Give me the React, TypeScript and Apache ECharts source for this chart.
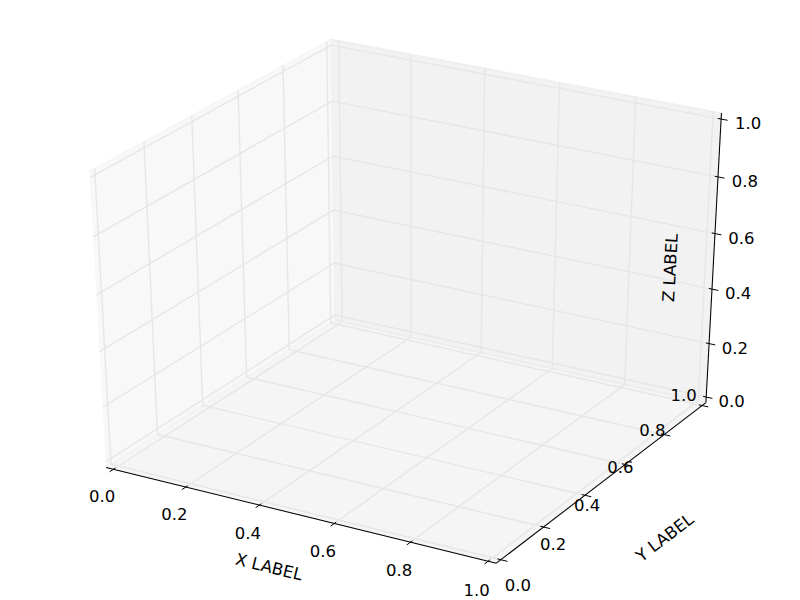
import React, { useEffect, useRef } from "react";
import * as echarts from "echarts";

// ---------------- data (empty 3D axes) ----------------
const xLimits = [0, 1];
const yLimits = [0, 1];
const zLimits = [0, 1];
const xTicks = [0.0, 0.2, 0.4, 0.6, 0.8, 1.0];
const yTicks = [0.0, 0.2, 0.4, 0.6, 0.8, 1.0];
const zTicks = [0.0, 0.2, 0.4, 0.6, 0.8, 1.0];
const xTickLabels = ["0.0", "0.2", "0.4", "0.6", "0.8", "1.0"];
const yTickLabels = ["0.0", "0.2", "0.4", "0.6", "0.8", "1.0"];
const zTickLabels = ["0.0", "0.2", "0.4", "0.6", "0.8", "1.0"];
const axisTitles = ["X LABEL", "Y LABEL", "Z LABEL"];

// ---------------- view (matplotlib mplot3d defaults) ----------------
const ELEV = 30;
const AZIM = -60;
const DIST = 10;

const LIMITS = [xLimits, yLimits, zLimits];
const RANGE = LIMITS.map((l) => l[1] - l[0]);
const DELTA = RANGE.map((r) => r / 12);
const LO = LIMITS.map((l, i) => l[0] - DELTA[i] / 4);
const HI = LIMITS.map((l, i) => l[1] + DELTA[i] / 4);
const CENTER = LIMITS.map((l) => (l[0] + l[1]) / 2);

const sub = (a: number[], b: number[]) => a.map((v, i) => v - b[i]);
const dot = (a: number[], b: number[]) => a[0] * b[0] + a[1] * b[1] + a[2] * b[2];
const cross = (a: number[], b: number[]) => [
  a[1] * b[2] - a[2] * b[1],
  a[2] * b[0] - a[0] * b[2],
  a[0] * b[1] - a[1] * b[0],
];
const unit = (a: number[]) => {
  const m = Math.hypot(a[0], a[1], a[2]);
  return a.map((v) => v / m);
};

const rel = (ELEV * Math.PI) / 180;
const raz = (AZIM * Math.PI) / 180;
const EYE = [
  0.5 + Math.cos(raz) * Math.cos(rel) * DIST,
  0.5 + Math.sin(raz) * Math.cos(rel) * DIST,
  0.5 + Math.sin(rel) * DIST,
];
const NV = unit(sub(EYE, [0.5, 0.5, 0.5]));
const UV = unit(cross([0, 0, 1], NV));
const VV = cross(NV, UV);

const toWorld = (P: number[]) => P.map((v, i) => (v - LIMITS[i][0]) / RANGE[i]);
const viewZ = (P: number[]) => dot(NV, sub(toWorld(P), EYE));
const project = (P: number[]) => {
  const p = sub(toWorld(P), EYE);
  const w = -dot(NV, p);
  return [dot(UV, p) / w, dot(VV, p) / w];
};

// which of the two parallel planes is further from the viewer
const HIGHS = [0, 1, 2].map((i) => {
  const a = CENTER.slice();
  a[i] = LO[i];
  const b = CENTER.slice();
  b[i] = HI[i];
  return viewZ(b) < viewZ(a);
});
const MINMAX = HIGHS.map((h, i) => (h ? HI[i] : LO[i]));
const flip = (P: number[], i: number) => {
  const q = P.slice();
  q[i] = q[i] === LO[i] ? HI[i] : LO[i];
  return q;
};
const moveFromCenter = (P: number[], factor: number, skip: number) =>
  P.map((v, i) => (i === skip ? v : v < CENTER[i] ? v - factor * DELTA[i] : v + factor * DELTA[i]));

// y tick labels sit along this line (normalised x / z as a function of y)
const Y_LABEL_X = [1.0656, 0.9704];
const Y_LABEL_Z = [-0.0968, 0.003];

const AXES = [
  { ticks: xTicks, labels: xTickLabels, juggled: [1, 0, 2], tickdir: 1, labelNudge: [1.5, 3], titleNudge: [2, -5] },
  { ticks: yTicks, labels: yTickLabels, juggled: [0, 1, 2], tickdir: 0, labelNudge: [0, 0], titleNudge: [10, 10] },
  { ticks: zTicks, labels: zTickLabels, juggled: [0, 2, 1], tickdir: 0, labelNudge: [-7, 8], titleNudge: [-119, 14] },
].map((a, i) => {
  const e1 = flip(MINMAX, a.juggled[0]);
  const e2 = flip(e1, a.juggled[1]);
  return { ...a, index: i, edge1: e1, edge2: e2, sign: HIGHS[a.tickdir] ? 1 : -1 };
});

const PANE_GRAY = [0.95, 0.9, 0.925];
const FONT = { fontFamily: "DejaVu Sans", fontSize: 16.5 };

function buildOption(): any {
  const paneData = [0, 1, 2].map((i) => [i, 0]);
  const gridData: number[][] = [];
  const tickData: number[][] = [];
  AXES.forEach((a, i) =>
    a.ticks.forEach((_, k) => {
      gridData.push([i, k]);
      tickData.push([i, k]);
    })
  );

  const renderPane = (_p: any, api: any) => {
    const i = api.value(0);
    const [j, k] = [0, 1, 2].filter((a) => a !== i);
    const corners = [
      [LO[j], LO[k]],
      [HI[j], LO[k]],
      [HI[j], HI[k]],
      [LO[j], HI[k]],
    ];
    const pts = corners.map(([a, b]) => {
      const P = [0, 0, 0];
      P[i] = MINMAX[i];
      P[j] = a;
      P[k] = b;
      return api.coord(project(P));
    });
    const g = Math.round(PANE_GRAY[i] * 255);
    const col = `rgba(${g},${g},${g},0.5)`;
    return {
      type: "group",
      silent: true,
      children: [
        { type: "polygon", shape: { points: pts }, style: { fill: col, stroke: null } },
        { type: "polyline", shape: { points: pts }, style: { fill: null, stroke: col, lineWidth: 1.39 } },
      ],
    };
  };

  const renderGrid = (_p: any, api: any) => {
    const i = api.value(0);
    const val = AXES[i].ticks[api.value(1)];
    const c = MINMAX.slice();
    c[i] = val;
    const p1 = flip(c, (i + 1) % 3);
    const p2 = flip(c, (i + 2) % 3);
    return {
      type: "polyline",
      silent: true,
      shape: { points: [p1, c, p2].map((P) => api.coord(project(P))) },
      style: { fill: null, stroke: "#e6e6e6", lineWidth: 1.39 },
    };
  };

  const renderAxisLine = (_p: any, api: any) => {
    const a = AXES[api.value(0)];
    const s = api.coord(project(a.edge1));
    const e = api.coord(project(a.edge2));
    return {
      type: "line",
      silent: true,
      shape: { x1: s[0], y1: s[1], x2: e[0], y2: e[1] },
      style: { stroke: "#000", lineWidth: 1.04 },
    };
  };

  const renderTick = (_p: any, api: any) => {
    const i = api.value(0);
    const k = api.value(1);
    const a = AXES[i];
    const val = a.ticks[k];
    const pos = a.edge1.slice();
    pos[i] = val;
    const out = pos.slice();
    out[a.tickdir] = a.edge1[a.tickdir] + 0.1 * a.sign * DELTA[a.tickdir];
    const inn = pos.slice();
    inn[a.tickdir] = a.edge1[a.tickdir] - 0.2 * a.sign * DELTA[a.tickdir];
    const t1 = api.coord(project(out));
    const t2 = api.coord(project(inn));
    let lp: number[];
    if (i === 1) {
      const t = (val - yLimits[0]) / RANGE[1];
      lp = [
        xLimits[0] + RANGE[0] * (Y_LABEL_X[0] + (Y_LABEL_X[1] - Y_LABEL_X[0]) * t),
        val,
        zLimits[0] + RANGE[2] * (Y_LABEL_Z[0] + (Y_LABEL_Z[1] - Y_LABEL_Z[0]) * t),
      ];
    } else {
      lp = moveFromCenter(pos, 0.7, i);
    }
    const l = api.coord(project(lp));
    return {
      type: "group",
      silent: true,
      children: [
        { type: "line", shape: { x1: t1[0], y1: t1[1], x2: t2[0], y2: t2[1] }, style: { stroke: "#000", lineWidth: 1 } },
        {
          type: "text",
          x: l[0] + a.labelNudge[0],
          y: l[1] + a.labelNudge[1],
          style: { text: a.labels[k], fill: "#000", align: "center", verticalAlign: "middle", ...FONT },
        },
      ],
    };
  };

  const renderTitle = (_p: any, api: any) => {
    const i = api.value(0);
    const a = AXES[i];
    const mid = a.edge1.map((v, d) => (v + a.edge2[d]) / 2);
    const lp = api.coord(project(moveFromCenter(mid, 1.6, i)));
    const s = api.coord(project(a.edge1));
    const e = api.coord(project(a.edge2));
    let ang = (Math.atan2(-(e[1] - s[1]), e[0] - s[0]) * 180) / Math.PI;
    ang = (((ang + 180) % 180) + 180) % 180;
    if (ang > 90) ang -= 180;
    return {
      type: "text",
      silent: true,
      x: lp[0] + a.titleNudge[0],
      y: lp[1] + a.titleNudge[1],
      rotation: (ang * Math.PI) / 180,
      style: { text: axisTitles[i], fill: "#000", align: "center", verticalAlign: "middle", ...FONT },
    };
  };

  const base = { type: "custom", coordinateSystem: "cartesian2d", silent: true };
  return {
    animation: false,
    backgroundColor: "#ffffff",
    tooltip: { show: false },
    grid: { left: 0, right: 0, top: 0, bottom: 0, show: false },
    xAxis: { type: "value", min: -0.95 / DIST, max: 0.9 / DIST, show: false },
    yAxis: { type: "value", min: -0.95 / DIST, max: 0.9 / DIST, show: false },
    series: [
      { ...base, name: "panes", z: 1, data: paneData, renderItem: renderPane },
      { ...base, name: "grid", z: 2, data: gridData, renderItem: renderGrid },
      { ...base, name: "axis", z: 3, data: paneData, renderItem: renderAxisLine },
      { ...base, name: "ticks", z: 4, data: tickData, renderItem: renderTick },
      { ...base, name: "titles", z: 5, data: paneData, renderItem: renderTitle },
    ],
  };
}

export default function App() {
  const ref = useRef<HTMLDivElement>(null);
  useEffect(() => {
    if (!ref.current) return;
    const chart = echarts.init(ref.current, null, { renderer: "svg" });
    chart.setOption(buildOption());
    return () => chart.dispose();
  }, []);
  return (
    <div
      ref={ref}
      style={{ position: "absolute", left: 0, top: 0, width: 800, height: 600, background: "#fff" }}
    />
  );
}
